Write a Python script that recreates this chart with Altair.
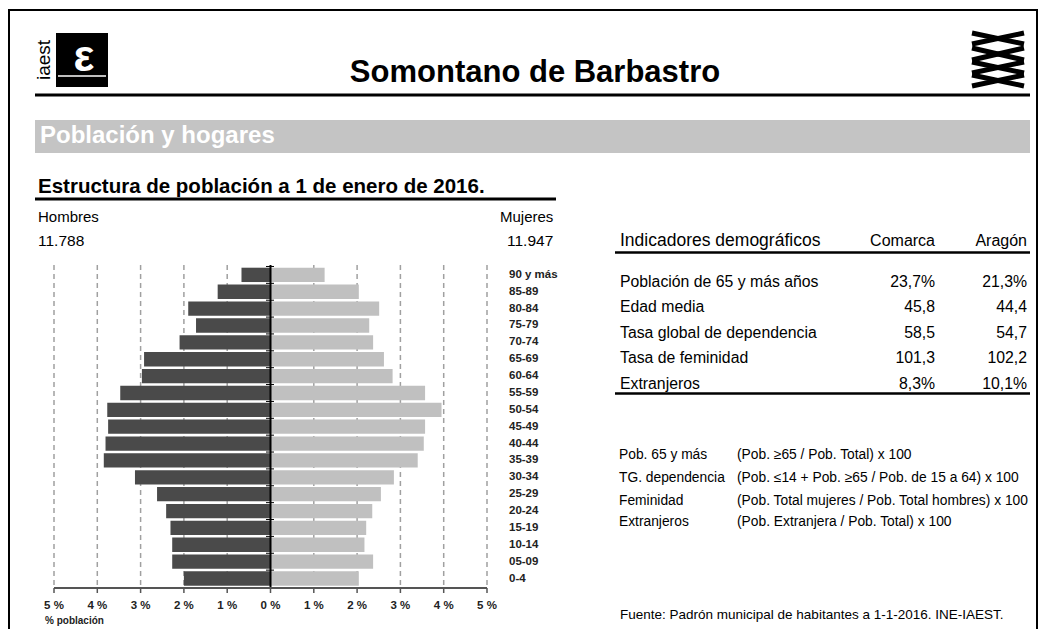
import altair as alt
import pandas as pd

FONT = "Liberation Sans"

# ---------------- data ----------------
ages = ["90 y más", "85-89", "80-84", "75-79", "70-74", "65-69", "60-64",
        "55-59", "50-54", "45-49", "40-44", "35-39", "30-34", "25-29",
        "20-24", "15-19", "10-14", "05-09", "0-4"]
hombres = [0.67, 1.22, 1.90, 1.72, 2.10, 2.92, 2.97, 3.47, 3.77, 3.75,
           3.81, 3.85, 3.13, 2.62, 2.41, 2.31, 2.27, 2.27, 2.00]
mujeres = [1.25, 2.04, 2.51, 2.28, 2.37, 2.62, 2.82, 3.57, 3.95, 3.57,
           3.54, 3.40, 2.85, 2.55, 2.35, 2.21, 2.17, 2.37, 2.04]
grid_vals = [-5, -4, -3, -2, -1, 1, 2, 3, 4, 5]
tick_vals = [-5, -4, -3, -2, -1, 0, 1, 2, 3, 4, 5]
tick_labels = ["5 %", "4 %", "3 %", "2 %", "1 %", "0 %", "1 %", "2 %", "3 %", "4 %", "5 %"]

total_hombres = "11.788"
total_mujeres = "11.947"

ind_header = ["Indicadores demográficos", "Comarca", "Aragón"]
ind_names = ["Población de 65 y más años", "Edad media", "Tasa global de dependencia",
             "Tasa de feminidad", "Extranjeros"]
ind_comarca = ["23,7%", "45,8", "58,5", "101,3", "8,3%"]
ind_aragon = ["21,3%", "44,4", "54,7", "102,2", "10,1%"]

def_names = ["Pob. 65  y más", "TG. dependencia", "Feminidad", "Extranjeros"]
def_formulas = ["(Pob.  ≥65 / Pob. Total) x 100",
                "(Pob. ≤14 + Pob. ≥65 / Pob. de 15 a 64) x 100",
                "(Pob. Total mujeres / Pob. Total hombres) x 100",
                "(Pob. Extranjera / Pob. Total) x 100"]
fuente = "Fuente: Padrón municipal de habitantes a 1-1-2016. INE-IAEST."

# ---------------- helpers ----------------
O = 8  # page margin offset
dummy = pd.DataFrame({"a": [0]})


def txt(s, x, y, size=13, weight="normal", align="left", color="#000000", angle=0, baseline="middle"):
    kw = dict(text=s, align=align, baseline=baseline, fontSize=size, fontWeight=weight,
              color=color, font=FONT)
    if angle:
        kw["angle"] = angle
    return alt.Chart(dummy).mark_text(**kw).encode(x=alt.value(x - O), y=alt.value(y - O))


def hline(x1, x2, y, w=2, color="#000000"):
    return alt.Chart(dummy).mark_rule(strokeWidth=w, color=color).encode(
        x=alt.value(x1 - O), x2=alt.value(x2 - O), y=alt.value(y - O))


def seg(x1, y1, x2, y2, w=2, color="#000000"):
    return alt.Chart(dummy).mark_rule(strokeWidth=w, color=color, strokeCap="butt").encode(
        x=alt.value(x1 - O), x2=alt.value(x2 - O), y=alt.value(y1 - O), y2=alt.value(y2 - O))


def rect(x1, x2, y1, y2, color):
    return alt.Chart(dummy).mark_rect(color=color).encode(
        x=alt.value(x1 - O), x2=alt.value(x2 - O), y=alt.value(y1 - O), y2=alt.value(y2 - O))


# ---------------- pyramid scales ----------------
xs = alt.Scale(domain=[-5, 5], range=[54 - O, 487 - O], nice=False, zero=False)
ys = alt.Scale(domain=ages, range=[267.7 - O, 585.7 - O], paddingInner=0.15, paddingOuter=0)

pyr = pd.DataFrame({"age": ages, "h": hombres, "m": mujeres})

grid = alt.Chart(pd.DataFrame({"v": grid_vals})).mark_rule(
    color="#a0a0a0", strokeWidth=1.5, strokeDash=[5, 4]).encode(
    x=alt.X("v:Q", scale=xs, axis=None),
    y=alt.value(265 - O), y2=alt.value(588 - O))

bars_h = alt.Chart(pyr).transform_calculate(s="-datum.h", e="0").mark_bar(
    color="#4a4a4a").encode(
    x=alt.X("s:Q", scale=xs, axis=None), x2=alt.X2("e:Q"),
    y=alt.Y("age:N", scale=ys, axis=None))

bars_m = alt.Chart(pyr).transform_calculate(s="0").mark_bar(
    color="#c0c0c0").encode(
    x=alt.X("s:Q", scale=xs, axis=None), x2=alt.X2("m:Q"),
    y=alt.Y("age:N", scale=ys, axis=None))

center_ticks = alt.Chart(pyr).mark_rule(color="#000000", strokeWidth=1, yOffset=-8.4).encode(
    x=alt.value(266 - O), x2=alt.value(274 - O),
    y=alt.Y("age:N", scale=ys, axis=None))

center_axis = alt.Chart(pd.DataFrame({"v": [0]})).mark_rule(color="#000000", strokeWidth=2).encode(
    x=alt.X("v:Q", scale=xs, axis=None), y=alt.value(265 - O), y2=alt.value(588 - O))

bottom_axis = hline(54, 487, 588, w=2, color="#555555")

bottom_ticks = alt.Chart(pd.DataFrame({"v": tick_vals})).mark_rule(
    color="#555555", strokeWidth=1.5).encode(
    x=alt.X("v:Q", scale=xs, axis=None),
    y=alt.value(588 - O), y2=alt.value(593 - O))

tick_text = alt.Chart(pd.DataFrame({"v": tick_vals, "lab": tick_labels})).mark_text(
    font=FONT, fontSize=11.5, fontWeight="bold", color="#222222", baseline="middle").encode(
    x=alt.X("v:Q", scale=xs, axis=None), y=alt.value(606 - O), text="lab:N")

age_text = alt.Chart(pyr).mark_text(
    font=FONT, fontSize=11.5, fontWeight="bold", color="#222222", align="left",
    baseline="middle").encode(
    x=alt.value(509 - O), y=alt.Y("age:N", scale=ys, axis=None), text="age:N")

layers = []

# border
layers += [hline(8, 1038, 10, w=2), seg(9, 10, 9, 640, w=2), seg(1037, 10, 1037, 640, w=2)]

# header logos
layers += [rect(56, 108, 33, 87, "#000000"),
           txt("ε", 84, 58, size=44, weight="bold", color="#ffffff", align="center"),
           hline(58, 106, 76, w=1.5, color="#ffffff"),
           txt("iaest", 44, 60, size=19, angle=270, align="center")]
for yt, yb in [(33, 44), (48, 60), (62, 73), (75, 86)]:
    layers += [seg(972, yt, 1024, yb, w=5), seg(972, yb, 1024, yt, w=5)]

layers += [txt("Somontano de Barbastro", 535, 82, size=31, weight="bold", align="center",
               baseline="alphabetic"),
           hline(35, 1030, 95, w=3)]

# banner
layers += [rect(35, 1030, 120, 153, "#c4c4c4"),
           txt("Población y hogares", 40, 143, size=24, weight="bold", color="#ffffff",
               baseline="alphabetic")]

# section title
layers += [txt("Estructura de población a 1 de enero de 2016.", 38, 193, size=20.5,
               weight="bold", baseline="alphabetic"),
           hline(35, 556, 199, w=3)]

# Hombres / Mujeres
layers += [txt("Hombres", 38, 217, size=15), txt(total_hombres, 38, 241, size=15.5),
           txt("Mujeres", 500, 217, size=15), txt(total_mujeres, 507, 241, size=15.5)]

# pyramid
layers += [grid, bars_h, bars_m, center_ticks, center_axis, bottom_axis, bottom_ticks,
           tick_text, age_text,
           txt("% población", 45, 621, size=10, weight="bold", color="#222222")]

# indicator table
layers += [txt(ind_header[0], 620, 241, size=17.5),
           txt(ind_header[1], 935, 241, size=16, align="right"),
           txt(ind_header[2], 1027, 241, size=16, align="right"),
           hline(615, 1030, 252.5, w=2.5)]
row_y = [282, 307.3, 332.7, 357.7, 384]
for i in range(len(ind_names)):
    layers += [txt(ind_names[i], 620, row_y[i], size=15.8),
               txt(ind_comarca[i], 935, row_y[i], size=15.8, align="right"),
               txt(ind_aragon[i], 1027, row_y[i], size=15.8, align="right")]
layers += [hline(615, 1030, 393.5, w=2.5)]

# definitions
def_y = [455, 478.3, 500.5, 522]
for i in range(len(def_names)):
    layers += [txt(def_names[i], 619, def_y[i], size=13.8),
               txt(def_formulas[i], 737, def_y[i], size=13.8)]
layers += [txt(fuente, 620, 615, size=13.5)]

chart = alt.layer(*layers).properties(
    width=1030, height=640,
    autosize=alt.AutoSizeParams(type="none"),
    padding=0,
).configure_view(stroke=None)

chart.save("out.html", embed_options={"renderer": "svg", "actions": False})
